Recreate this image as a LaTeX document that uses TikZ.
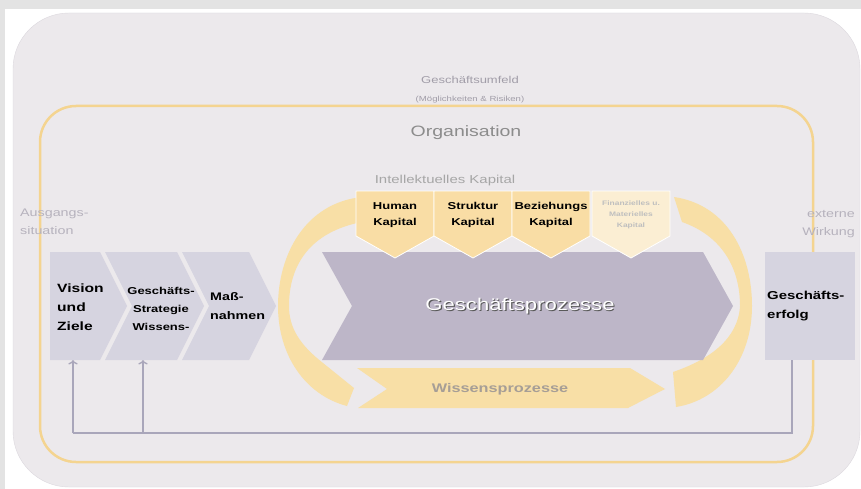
\documentclass[tikz,border=0pt]{standalone}
\usepackage{fontspec}
\setmainfont{Liberation Sans}[FakeStretch=1.3]
\usepackage{tikz}
\usetikzlibrary{arrows.meta}

\definecolor{pagegray}{HTML}{E3E3E3}
\definecolor{umfeld}{HTML}{ECE9EC}
\definecolor{umfeldrand}{HTML}{DCD8DE}
\definecolor{orgorange}{HTML}{F4D490}
\definecolor{kreis}{HTML}{F8DFA6}
\definecolor{kapital}{HTML}{F9DDA5}
\definecolor{kapitalhell}{HTML}{FBEED3}
\definecolor{schritt}{HTML}{D6D4E0}
\definecolor{prozess}{HTML}{BDB6C8}
\definecolor{rueck}{HTML}{A9A6BA}
\definecolor{titelgrau}{HTML}{A19DA8}
\definecolor{hellgrau}{HTML}{B6B2BD}
\definecolor{wissengrau}{HTML}{A69E96}

\tikzset{
  titel/.style={text=titelgrau, inner sep=0pt},
  schritttext/.style={font=\bfseries\fontsize{12}{19}\selectfont, align=left, inner sep=0pt},
  kapitalfeld/.style={fill=kapital, draw=white, line width=0.8pt},
  kapitaltext/.style={font=\bfseries\fontsize{10}{16}\selectfont, align=center, inner sep=0pt},
  rueckpfeil/.style={draw=rueck, line width=1.3pt},
}

\begin{document}
\begin{tikzpicture}[x=1pt,y=-1pt]
	\useasboundingbox (0,0) rectangle (861,489);
	\fill[pagegray] (0,0) rectangle (861,489);
	\fill[white] (5,9) rectangle (861,489);
	
	% Umfeld und Organisation
	\draw[fill=umfeld, draw=umfeldrand, rounded corners=56pt] (13,13) rectangle (860,487);
	\node[titel, font=\fontsize{10}{12}\selectfont] (umfeld) at (470,80) {Geschäftsumfeld};
	\node[titel, font=\fontsize{7.4}{9}\selectfont] (chancen) at (470,100) {(Möglichkeiten \& Risiken)};
	\draw[orgorange, line width=2.5pt, rounded corners=36pt] (40,106) rectangle (813,462);
	\node[titel, text=black!45, font=\fontsize{15}{18}\selectfont] (org) at (466,133) {Organisation};
	
	\node[titel, text=hellgrau, font=\fontsize{11}{18}\selectfont, align=left, anchor=west] (ausgang) at (20,222) {Ausgangs-\\situation};
	\node[titel, text=hellgrau, font=\fontsize{11}{18}\selectfont, align=right, anchor=east] (wirkung) at (855,224) {externe\\Wirkung};
	
	% Kreislauf
	\fill[kreis] (362,197) .. controls (305,203) and (278,255) .. (278,306)
		.. controls (278,355) and (305,395) .. (347,406) -- (354,388) -- (323,363)
		.. controls (300,345) and (289,328) .. (289,306)
		.. controls (289,265) and (310,232) .. (362,222) -- cycle;
	\fill[kreis] (674,197) .. controls (728,205) and (752,255) .. (752,306)
		.. controls (752,360) and (720,400) .. (676,407) -- (673,372)
		.. controls (708,360) and (738,340) .. (740,306)
		.. controls (740,268) and (722,236) .. (682,222) -- cycle;
	\fill[kreis] (357,368) -- (630,368) -- (665,389) -- (628,408) -- (358,408) -- (387,389) -- cycle;
	\node[inner sep=0pt, text=wissengrau, font=\bfseries\fontsize{12.5}{14}\selectfont] (wissen) at (500,389) {Wissensprozesse};
	
	% Geschaeftsprozesse
	\fill[prozess] (322,252) -- (703,252) -- (733,306) -- (703,360) -- (322,360) -- (352,306) -- cycle;
	\node[inner sep=0pt, text=black!65, font=\fontsize{17}{20}\selectfont] (gpschatten) at (521.2,307.2) {Geschäftsprozesse};
	\node[inner sep=0pt, text=white, font=\fontsize{17}{20}\selectfont] (gp) at (520,306) {Geschäftsprozesse};
	
	% Intellektuelles Kapital
	\node[titel, text=black!35, font=\fontsize{11.5}{13}\selectfont] (ik) at (445,181) {Intellektuelles Kapital};
	\draw[kapitalfeld] (356,191) -- (434,191) -- (434,236) -- (395,258) -- (356,236) -- cycle;
	\draw[kapitalfeld] (434,191) -- (512,191) -- (512,236) -- (473,258) -- (434,236) -- cycle;
	\draw[kapitalfeld] (512,191) -- (590,191) -- (590,236) -- (551,258) -- (512,236) -- cycle;
	\draw[kapitalfeld, fill=kapitalhell] (592,191) -- (670,191) -- (670,236) -- (631,258) -- (592,236) -- cycle;
	\node[kapitaltext] (human) at (395,215) {Human\\Kapital};
	\node[kapitaltext] (struktur) at (473,215) {Struktur\\Kapital};
	\node[kapitaltext] (beziehung) at (551,215) {Beziehungs\\Kapital};
	\node[kapitaltext, text=black!25, font=\bfseries\fontsize{6.5}{11}\selectfont] (finanz) at (631,215) {Finanzielles u.\\Materielles\\Kapital};
	
	% Rueckkopplung
	\coordinate (V1) at (73,360);
	\coordinate (V2) at (143,360);
	\coordinate (R1) at (73,433);
	\coordinate (R2) at (143,433);
	\coordinate (R3) at (792,433);
	\node[fill=schritt, minimum width=90pt, minimum height=108pt, inner sep=0pt] (erfolg) at (810,306) {};
	\draw[rueckpfeil] (erfolg.south -| R3) -- (R3) -- (R1);
	\draw[rueckpfeil, ->] (R1) -- (V1);
	\draw[rueckpfeil, ->] (R2) -- (V2);
	
	% Schritte
	\fill[schritt] (50,252) -- (100,252) -- (127,306) -- (100,360) -- (50,360) -- cycle;
	\fill[schritt] (105,252) -- (177,252) -- (204,306) -- (177,360) -- (105,360) -- (132,306) -- cycle;
	\fill[schritt] (182,252) -- (249,252) -- (276,306) -- (249,360) -- (182,360) -- (209,306) -- cycle;
	\node[schritttext, anchor=west] (vision) at (57,307) {Vision\\und\\Ziele};
	\node[schritttext, align=center, font=\bfseries\fontsize{10}{18}\selectfont] (strategie) at (161,309) {Geschäfts-\\Strategie\\Wissens-};
	\node[schritttext, anchor=west, font=\bfseries\fontsize{11}{19}\selectfont] (massnahmen) at (210,306) {Maß-\\nahmen};
	\node[schritttext, anchor=west, font=\bfseries\fontsize{11.5}{19}\selectfont] (erfolgtext) at (767,306) {Geschäfts-\\erfolg};
\end{tikzpicture}
\end{document}
